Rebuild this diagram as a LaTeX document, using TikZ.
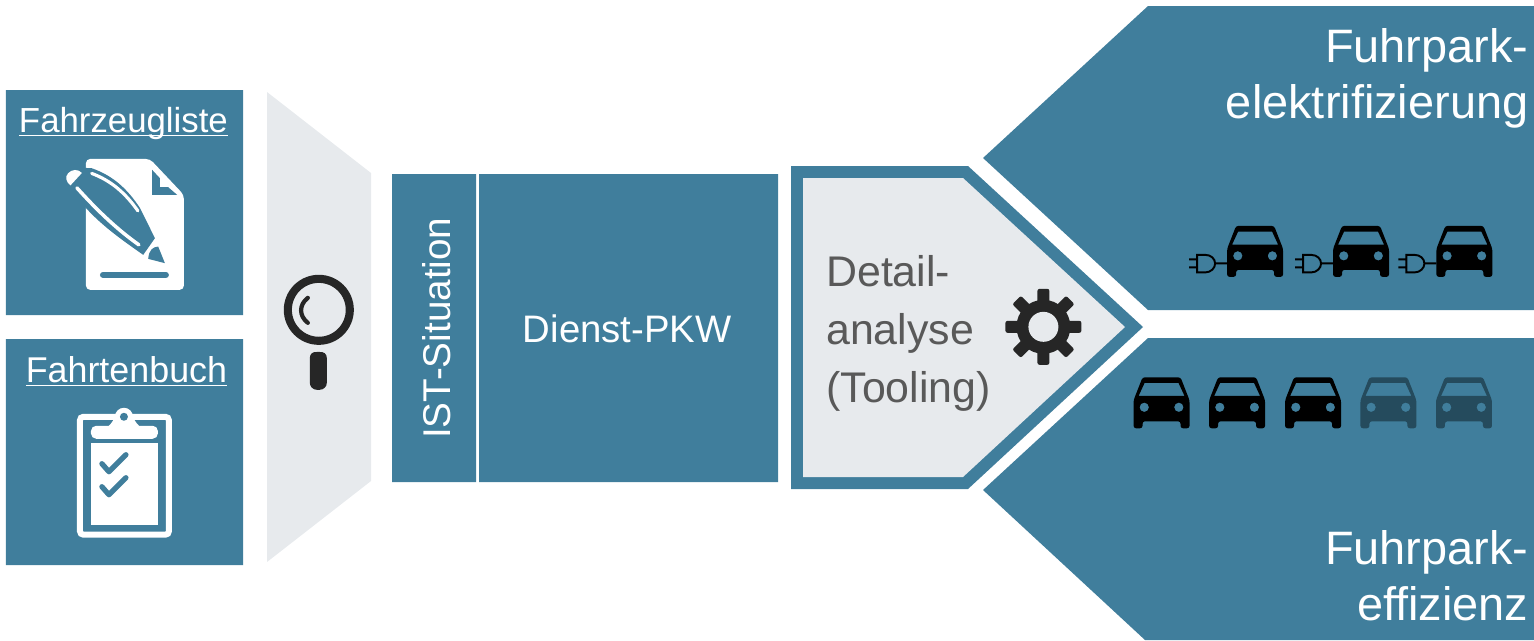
\documentclass[tikz,border=0pt]{standalone}
\usepackage{fontspec}
\setmainfont{Liberation Sans}
\usepackage{tkz-euclide}
\definecolor{ShapeClr}{HTML}{407E9C}
\definecolor{LightClr}{HTML}{E7EAED}
\definecolor{IconClr}{HTML}{262626}
\definecolor{GreyTxtClr}{HTML}{595959}
\definecolor{DimCarClr}{HTML}{254B5D}
\newcommand{\UnderTxt}[1]{\setbox0\hbox{#1}\rlap{\rule[-0.1em]{\wd0}{0.035em}}#1}
\tikzset{
  whitetxt/.style={text=white,inner sep=0pt},
  pics/car/.style={code={
    \fill[#1,even odd rule,rounded corners=.7pt]
      (-19,0) -- (19,0) -- (28,23) -- (28,51) -- (19,51) -- (19,44) -- (-19,44) -- (-19,51) -- (-28,51) -- (-28,23) -- cycle
      [sharp corners] (-17,5.7) -- (17,5.7) -- (23,18.7) -- (-23,18.7) -- cycle
      (-17.3,30) circle (4.7) (17.3,30) circle (4.7);
  }},
  pics/plug/.style={code={
    \draw[black,line width=.55pt] (-28,37.5) -- (-40,37.5)
      (-58,29) -- (-50,29) .. controls (-44,29) and (-40,33) .. (-40,37.7) .. controls (-40,42) and (-44,46.6) .. (-50,46.6) -- (-58,46.6) -- cycle
      (-66,33.5) -- (-58,33.5) (-66,41.5) -- (-58,41.5);
  }}
}

\begin{document}
\begin{tikzpicture}
\useasboundingbox (0,0) rectangle (15.34,6.4);
\tkzSetUpLine[line width=0pt]

% outlines, y counted from below
\tkzDefPoints{0.06/5.50/La,2.43/5.50/Lb,2.43/3.25/Lc,0.06/3.25/Ld}
\tkzDefPoints{0.06/3.01/Le,2.43/3.01/Lf,2.43/0.75/Lg,0.06/0.75/Lh}
\tkzDefPoints{2.67/5.48/Fa,3.71/4.67/Fb,3.71/1.59/Fc,2.67/0.78/Fd}
\tkzDefPoints{3.92/4.66/Ia,4.76/4.66/Ib,4.76/1.58/Ic,3.92/1.58/Id}
\tkzDefPoints{4.79/4.66/Da,7.78/4.66/Db,7.78/1.58/Dc,4.79/1.58/Dd}
\tkzDefPoints{7.91/4.74/Oa,9.68/4.74/Ob,11.43/3.13/Oc,9.68/1.51/Od,7.91/1.51/Oe}
\tkzDefPoints{8.03/4.62/Pa,9.63/4.62/Pb,11.25/3.13/Pc,9.63/1.63/Pd,8.03/1.63/Pe}
\tkzDefPoints{9.83/4.82/Ua,11.48/6.34/Ub,15.34/6.34/Uc,15.34/3.30/Ud,11.48/3.30/Ue}
\tkzDefPoints{9.83/1.50/Ba,11.48/3.02/Bb,15.34/3.02/Bc,15.34/0/Bd,11.45/0/Be}

\tkzFillPolygon[fill=ShapeClr](La,Lb,Lc,Ld)
\tkzFillPolygon[fill=ShapeClr](Le,Lf,Lg,Lh)
\tkzFillPolygon[fill=LightClr](Fa,Fb,Fc,Fd)
\tkzFillPolygon[fill=ShapeClr](Ia,Ib,Ic,Id)
\tkzFillPolygon[fill=ShapeClr](Da,Db,Dc,Dd)
\tkzFillPolygon[fill=ShapeClr](Oa,Ob,Oc,Od,Oe)
\tkzFillPolygon[fill=LightClr](Pa,Pb,Pc,Pd,Pe)
\tkzFillPolygon[fill=ShapeClr](Ua,Ub,Uc,Ud,Ue)
\tkzFillPolygon[fill=ShapeClr](Ba,Bb,Bc,Bd,Be)

% icons and texts, in pixels from the top left
\begin{scope}[shift={(0,6.4)},x=.01cm,y=-.01cm]
% document and pen
\fill[white,rounded corners=1.2pt] (86,159) -- (150,159) -- (184,195) -- (184,290) -- (86,290) -- cycle;
\fill[ShapeClr] (152.3,170) -- (160,178.3) -- (160,187.3) -- (168.3,187.3) -- (177.3,195) -- (152.3,195) -- cycle;
\draw[ShapeClr,line width=1.7pt,line cap=round] (103,275) -- (166,275);
\fill[ShapeClr] (85,168) -- (91.7,168.3) .. controls (114,176) and (128,190) .. (140,208) -- (155,238.3) -- (143.3,255) .. controls (122,240) and (102,226) .. (85,207) -- cycle;
\draw[white,line width=1pt,line cap=round] (77,188) .. controls (95,208) and (115,228) .. (139,245);
\draw[white,line width=.9pt,line cap=round] (91.7,173.5) .. controls (112,181) and (126,194) .. (138,211);
\fill[ShapeClr] (148.3,259) -- (165,263.3) -- (158.3,246.7) .. controls (153,247) and (149,250) .. cycle;
\fill[white] (70.5,185.5) .. controls (66,182) and (65,177) .. (68,173.5) .. controls (72,169) and (78,169) .. (82,173) -- cycle;
% clipboard
\draw[white,line width=1.7pt,rounded corners=1pt] (80,417) rectangle (169,535);
\fill[white] (91,443) rectangle (158,525);
\fill[white,rounded corners=1.5pt] (91,439) -- (91,426) -- (158,426) -- (158,439) -- cycle;
\fill[white] (124,417) circle (9);
\fill[white] (108,427) .. controls (113,422) and (114,420) .. (115,415) -- (133,415) .. controls (134,420) and (135,422) .. (140,427) -- cycle;
\fill[ShapeClr] (124,417) circle (4);
\draw[ShapeClr,line width=1.5pt,line cap=round,line join=round] (102,464) -- (109,472) -- (126,455);
\draw[ShapeClr,line width=1.5pt,line cap=round,line join=round] (102,487) -- (109,495) -- (126,478);
% magnifier
\draw[IconClr,line width=2.3pt] (319,310) circle (31);
\draw[IconClr,line width=1.2pt,line cap=round] (308,298) .. controls (299,305) and (299,316) .. (308,323);
\fill[IconClr,rounded corners=2pt] (310,351) .. controls (315,352) and (322,352) .. (327,351) -- (327,390) -- (310,390) -- cycle;
% gear
\fill[IconClr] (1044,327) circle (27);
\foreach \ang in {0,45,...,315}
  \fill[IconClr,rotate around={\ang:(1044,327)},rounded corners=.6pt] (1038,327) -- (1038,289) -- (1050,289) -- (1050,327) -- cycle;
\fill[LightClr] (1044,327) circle (15);
% cars
\foreach \cx in {1255.8,1361.8,1465.2} {
  \path (\cx,226) pic {car=black};
  \path (\cx,226) pic {plug};
}
\foreach \cx in {1162.2,1237.8,1313.8} \path (\cx,377.5) pic {car=black};
\foreach \cx in {1389.2,1464.8} \path (\cx,377.5) pic {car=DimCarClr};
% texts
\node[whitetxt,anchor=base,font=\fontsize{9.9}{12}\selectfont] (fahrzeug) at (123.5,133) {\UnderTxt{Fahrzeugliste}};
\node[whitetxt,anchor=base,font=\fontsize{10.2}{12}\selectfont] (fahrten) at (126.5,383) {\UnderTxt{Fahrtenbuch}};
\node[whitetxt,rotate=90,anchor=base,font=\fontsize{11}{13}\selectfont] (ist) at (451,328.5) {IST-Situation};
\node[whitetxt,anchor=base,font=\fontsize{10.9}{13}\selectfont] (dienst) at (627.5,343) {Dienst-PKW};
\node[text=GreyTxtClr,inner sep=0pt,align=left,anchor=base west,font=\fontsize{12.2}{16.5}\selectfont] (detail) at (826,403) {Detail-\\analyse\\(Tooling)};
\node[whitetxt,align=right,anchor=base east,font=\fontsize{13.35}{15.9}\selectfont] (elektro) at (1530,118.5) {Fuhrpark-\\elektrifizierung};
\node[whitetxt,align=right,anchor=base east,font=\fontsize{13.35}{15.9}\selectfont] (effizienz) at (1530,621) {Fuhrpark-\\effizienz};
\end{scope}
\end{tikzpicture}
\end{document}
